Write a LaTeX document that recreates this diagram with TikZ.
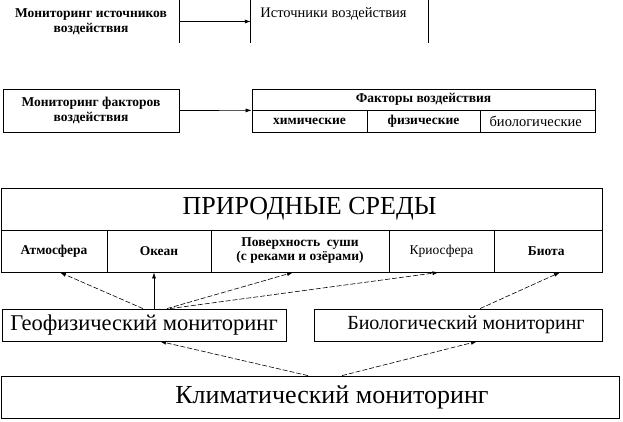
\documentclass[tikz,border=0pt]{standalone}
\usepackage{fontspec}
\setmainfont{Liberation Serif}
\newfontfamily\tnr{Liberation Serif}
\usetikzlibrary{arrows.meta}

\begin{document}
\begin{tikzpicture}[x=1pt, y=-1pt,
		cell/.style={draw, line width=0.8pt, inner sep=0pt, align=center},
		small/.style={font=\tnr\fontsize{13.5}{15}\selectfont},
		arr/.style={-{Latex[length=6pt,width=4pt]}, line width=0.6pt},
		dsh/.style={arr, dash pattern=on 5pt off 2pt}]
		\useasboundingbox (0,0) rectangle (623,421);
		% sources
		\node[font=\tnr\fontsize{13.5}{15}\selectfont\bfseries, align=center, minimum width=176pt, minimum height=43pt, inner sep=0pt] (srcmon) at (91,21.5) {Мониторинг источников\\воздействия};
		\node[minimum width=177pt, minimum height=43pt, inner sep=0pt] (src) at (339.5,21.5) {};
		\node[font=\tnr\fontsize{14.5}{16}\selectfont, anchor=north] (srctxt) at ([yshift=-4pt,xshift=-6pt]src.north) {Источники воздействия};
		\draw[line width=0.8pt] (srcmon.north east) -- (srcmon.south east);
		\draw[line width=0.8pt] (src.north west) -- (src.south west);
		\draw[line width=0.8pt] (src.north east) -- (src.south east);
		\draw[arr] (srcmon.east) -- (src.west);
		% factors
		\node[cell, font=\tnr\fontsize{13.5}{15}\selectfont\bfseries, minimum width=176pt, minimum height=43pt] (facmon) at (91,110.5) {Мониторинг факторов\\воздействия};
		\node[cell, font=\tnr\fontsize{13.5}{15}\selectfont\bfseries, minimum width=343pt, minimum height=21pt] (fac) at (423.5,99.5) {Факторы воздействия};
		\foreach \cx/\w/\name/\txt in {
			309.5/115/chem/\bfseries химические,
			423.5/113/phys/\bfseries физические,
			537.5/115/biol/\fontsize{14.5}{15}\selectfont биологические
		}{
			\node[cell, small, minimum width=\w pt, minimum height=22pt] (\name) at (\cx,121) {\txt};
		}
		\draw[arr] (facmon.east) -- (fac.south west);
		% natural media
		\node[cell, font=\tnr\fontsize{26}{28}\selectfont, minimum width=601pt, minimum height=42pt] (media) at (301.5,209) {\hspace*{16pt}ПРИРОДНЫЕ СРЕДЫ};
		\foreach \cx/\w/\name/\txt in {
			54/106/atmo/{\bfseries Атмосфера},
			159/104/ocean/{\bfseries Океан},
			300/178/land/{\bfseries Поверхность\ \ суши\\\bfseries (с реками и озёрами)},
			441.5/105/cryo/{Криосфера},
			548/108/biota/{\bfseries Биота}
		}{
			\node[cell, font=\tnr\fontsize{13.5}{14}\selectfont, minimum width=\w pt, minimum height=42pt] (\name) at (\cx,251) {\txt};
		}
		% monitoring
		\node[cell, font=\tnr\fontsize{22.5}{25}\selectfont, minimum width=284pt, minimum height=32pt] (geo) at (144,325) {Геофизический мониторинг};
		\node[cell, font=\tnr\fontsize{20}{23}\selectfont, minimum width=288pt, minimum height=32pt] (bio) at (458,325) {\hspace*{16pt}Биологический мониторинг};
		\node[cell, font=\tnr\fontsize{26}{28}\selectfont, minimum width=618pt, minimum height=42pt] (klim) at (310,397) {\hspace*{44pt}Климатический мониторинг};
		% arrows
		\draw[dsh] ([xshift=-1pt]geo.north) -- ([xshift=6pt]atmo.south);
		\draw[arr] ([xshift=10pt]geo.north) -- ([xshift=-5pt]ocean.south);
		\draw[dsh] ([xshift=23pt]geo.north) -- ([xshift=-7pt]land.south);
		\draw[dsh] ([xshift=26pt]geo.north) -- ([xshift=-3pt]cryo.south);
		\draw[dsh] ([xshift=22pt]bio.north) -- ([xshift=12pt]biota.south);
		\draw[dsh] ([xshift=-2pt]klim.north) -- ([xshift=16pt]geo.south);
		\draw[dsh] ([xshift=32pt]klim.north) -- ([xshift=19pt]bio.south);
	\end{tikzpicture}
\end{document}
